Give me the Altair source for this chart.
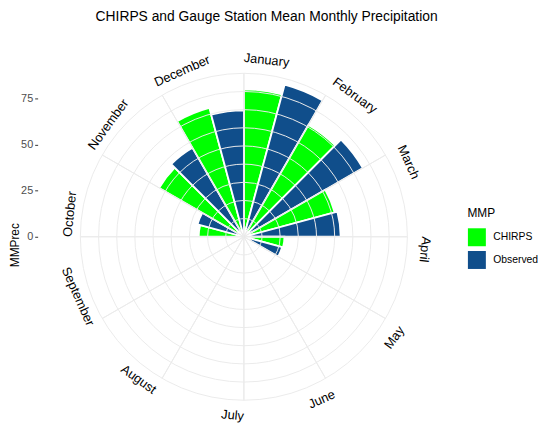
import math
import altair as alt
import pandas as pd

# ---- data ----
months = ["January", "February", "March", "April", "May", "June",
          "July", "August", "September", "October", "November", "December"]
chirps = [80.0, 70.0, 51.0, 22.0, 1.5, 1.0, 0.5, 0.5, 1.0, 24.5, 53.0, 72.4]
observed = [85.4, 74.5, 52.5, 21.5, 3.5, 3.0, 1.0, 0.8, 1.5, 26.0, 55.7, 68.6]
series_names = ["CHIRPS", "Observed"]
series_colors = ["#00FF00", "#104E8B"]
r_ticks = [0, 25, 50, 75]

# ---- layout constants (style) ----
PX_PER_UNIT = 1.866
W, H = 417.4, 378
PAD_L, PAD_T = 30, 40
GRID_STEP = 9.85
N_GRID = 9
LABEL_R_PX = 181.5
LABEL_R_COS = 0.5
LABEL_R_SIN = 3
ROT_SHIFT = 6

rows = []
for i, m in enumerate(months):
    for k, (s, vals) in enumerate(zip(series_names, [chirps, observed])):
        t0 = i * 30 + k * 15
        rows.append({"month": m, "series": s, "t0": t0, "t1": t0 + 15, "value": vals[i]})
bars_df = pd.DataFrame(rows)

grid_df = pd.DataFrame({"r": [GRID_STEP * (k + 1) for k in range(N_GRID)]})
spoke_df = pd.DataFrame({"b": [i * 30 for i in range(12)],
                         "b2": [i * 30 + 0.01 for i in range(12)],
                         "r": [GRID_STEP * N_GRID] * 12})

lab_rows = []
for i, m in enumerate(months):
    b = i * 30
    if 90 < b < 270:
        rot, side = b - 180 + ROT_SHIFT, "right"
    elif b >= 270:
        rot, side = b - 360 + ROT_SHIFT, "left"
    else:
        rot, side = b + ROT_SHIFT, "left"
    rad = math.radians(b)
    lr = (LABEL_R_PX - LABEL_R_COS * math.cos(rad) + LABEL_R_SIN * math.sin(rad)) / PX_PER_UNIT
    lab_rows.append({"month": m, "b": b, "rot": rot % 360, "side": side, "lr": lr})
lab_df = pd.DataFrame(lab_rows)
axis_df = pd.DataFrame({"v": r_ticks})

theta_scale = alt.Scale(domain=[0, 360], range=[0, 2 * math.pi])
r_scale = alt.Scale(type="linear", domain=[0, 100], range=[0, 100 * PX_PER_UNIT],
                    zero=True, nice=False)
FONT = "Liberation Sans"

bars = alt.Chart(bars_df).mark_arc(stroke="white", strokeWidth=1.8).encode(
    theta=alt.Theta("t0:Q", scale=theta_scale, stack=None),
    theta2="t1:Q",
    radius=alt.Radius("value:Q", scale=r_scale, stack=None),
    color=alt.Color("series:N",
                    scale=alt.Scale(domain=series_names, range=series_colors),
                    legend=alt.Legend(title="MMP", orient="none", legendX=435, legendY=160,
                                      symbolType="square", symbolSize=330,
                                      symbolStrokeWidth=0, titleFontSize=12,
                                      titleFontWeight="normal", titleFont=FONT,
                                      titleColor="black", labelFont=FONT,
                                      labelFontSize=10.5, labelColor="black",
                                      titlePadding=8, rowPadding=4, labelOffset=7,
                                      padding=0)),
)

circles = alt.Chart(grid_df).mark_arc(fillOpacity=0, stroke="#EBEBEB", strokeWidth=1).encode(
    theta=alt.value(0),
    theta2=alt.value(2 * math.pi),
    radius=alt.Radius("r:Q", scale=r_scale, stack=None),
)

spokes = alt.Chart(spoke_df).mark_arc(fillOpacity=0, stroke="#EBEBEB", strokeWidth=1).encode(
    theta=alt.Theta("b:Q", scale=theta_scale, stack=None),
    theta2="b2:Q",
    radius=alt.Radius("r:Q", scale=r_scale, stack=None),
)

def label_layer(side):
    return alt.Chart(lab_df).transform_filter(
        alt.datum.side == side
    ).mark_text(align=side, baseline="middle", fontSize=13,
                font=FONT, color="black").encode(
        theta=alt.Theta("b:Q", scale=theta_scale, stack=None),
        radius=alt.Radius("lr:Q", scale=r_scale, stack=None),
        text="month:N",
        angle=alt.Angle("rot:Q", scale=None),
    )

ymax = (H / 2) / PX_PER_UNIT
axis_layer = alt.Chart(axis_df).mark_point(opacity=0).encode(
    y=alt.Y("v:Q", scale=alt.Scale(domain=[-ymax, ymax], nice=False, zero=False),
            axis=alt.Axis(values=r_ticks, title="MMPrec", titleFont=FONT, titleFontSize=12,
                          titleFontWeight="normal", titleColor="black", titleX=-23,
                          titleY=197, titleBaseline="middle", labelFont=FONT,
                          labelFontSize=11, labelColor="#4D4D4D", tickColor="#333333",
                          tickSize=3, domain=False, grid=False, labelPadding=2)),
)

chart = alt.layer(bars, circles, spokes, label_layer("left"), label_layer("right"),
                  axis_layer).properties(
    width=W, height=H,
    background="white",
    autosize=alt.AutoSizeParams(type="none"),
    padding={"left": PAD_L, "top": PAD_T, "right": 93, "bottom": 0},
    title=alt.TitleParams("CHIRPS and Gauge Station Mean Monthly Precipitation",
                          font=FONT, fontSize=14, fontWeight="normal", color="black",
                          anchor="middle", dx=23, offset=26),
).configure_view(strokeWidth=0, stroke="transparent")

chart.save("out.html", embed_options={"renderer": "svg", "actions": False})
